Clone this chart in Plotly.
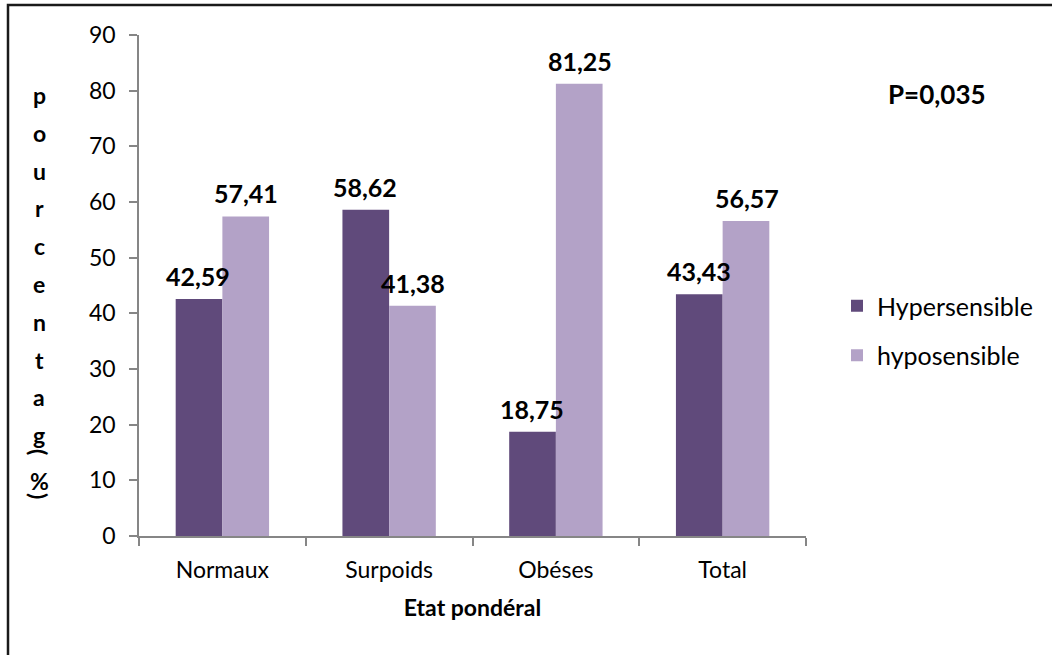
import plotly.graph_objects as go

categories = ["Normaux", "Surpoids", "Obéses", "Total"]
hypersensible = [42.59, 58.62, 18.75, 43.43]
hyposensible = [57.41, 41.38, 81.25, 56.57]
y_ticks = [0, 10, 20, 30, 40, 50, 60, 70, 80, 90]

DARK = "#604A7B"
LIGHT = "#B3A2C7"
FONT = "Lato, 'Open Sans', sans-serif"

fig = go.Figure()
fig.add_trace(go.Bar(name="Hypersensible", x=categories, y=hypersensible,
                     marker=dict(color=DARK, line=dict(width=0)),
                     legendgroup="a"))
fig.add_trace(go.Bar(name="hyposensible", x=categories, y=hyposensible,
                     marker=dict(color=LIGHT, line=dict(width=0)),
                     legendgroup="b"))

def fmt(v):
    return f"{v:.2f}".replace(".", ",")

annotations = []
for series, shift in ((hypersensible, -24), (hyposensible, 24)):
    for cat, v in zip(categories, series):
        annotations.append(dict(x=cat, y=v, xref="x", yref="y", text=fmt(v),
                                showarrow=False, xshift=shift, yshift=6,
                                yanchor="bottom",
                                font=dict(family=FONT, size=25, color="#000000",
                                          weight="bold")))
n_value_labels = len(annotations)

# stacked vertical axis title (pixel positions, converted below)
letters = ["p", "o", "u", "r", "c", "e", "n", "t", "a", "g"]
for i, ch in enumerate(letters):
    annotations.append(dict(x=39, y=95 + i * 37.8, text=ch, showarrow=False))
extra = [("(", 452, 90), ("%", 481, 0), (")", 496, 90)]
for ch, ypix, ang in extra:
    annotations.append(dict(x=39, y=ypix, text=ch, showarrow=False, textangle=ang))

L, R, T, B, W, H = 139, 246, 35, 119, 1052, 655
pw, ph = W - L - R, H - T - B
for a in annotations[n_value_labels:]:
    a["x"] = (a["x"] - L) / pw
    a["y"] = (H - B - a["y"]) / ph
    a["xref"] = "paper"
    a["yref"] = "paper"
    a["xanchor"] = "center"
    a["yanchor"] = "middle"
    a["font"] = dict(family=FONT, size=23, color="#000000", weight="bold")

annotations.append(dict(x=(937 - L) / pw, y=(H - B - 94) / ph, xref="paper", yref="paper",
                        text="P=0,035", showarrow=False, xanchor="center", yanchor="middle",
                        font=dict(family=FONT, size=26, color="#000000", weight="bold")))

fig.update_layout(
    width=W, height=H,
    margin=dict(l=L, r=R, t=T, b=B),
    paper_bgcolor="white", plot_bgcolor="white",
    barmode="group", bargap=0.44, bargroupgap=0,
    font=dict(family=FONT, size=24, color="#000000"),
    annotations=annotations,
    legend=dict(x=(837 - L) / pw, y=(H - B - 283) / ph, xref="paper", yref="paper",
                xanchor="left", yanchor="top", tracegroupgap=14,
                font=dict(family=FONT, size=25, color="#000000"),
                bgcolor="rgba(0,0,0,0)"),
    xaxis=dict(showline=True, linecolor="#868686", linewidth=1.5,
               ticks="outside", tickson="boundaries", ticklen=8, tickcolor="#868686",
               tickwidth=1.5, showgrid=False, tickfont=dict(size=23),
               ticklabelstandoff=13,
               title=dict(text="<b>Etat pondéral</b>", standoff=18,
                          font=dict(family=FONT, size=23))),
    yaxis=dict(range=[0, 90], tickvals=y_ticks, showline=True, linecolor="#868686",
               linewidth=1.5, ticks="outside", ticklen=8, tickcolor="#868686",
               tickwidth=1.5, showgrid=False, zeroline=False, tickfont=dict(size=23),
               ticklabelstandoff=9),
    shapes=[dict(type="rect", xref="paper", yref="paper",
                 x0=(8 - L) / pw, x1=(1070 - L) / pw,
                 y0=(H - B - 680) / ph, y1=(H - B - 5) / ph,
                 line=dict(color="#1a1a1a", width=2.5), layer="below")],
)

fig.write_html("out.html")
